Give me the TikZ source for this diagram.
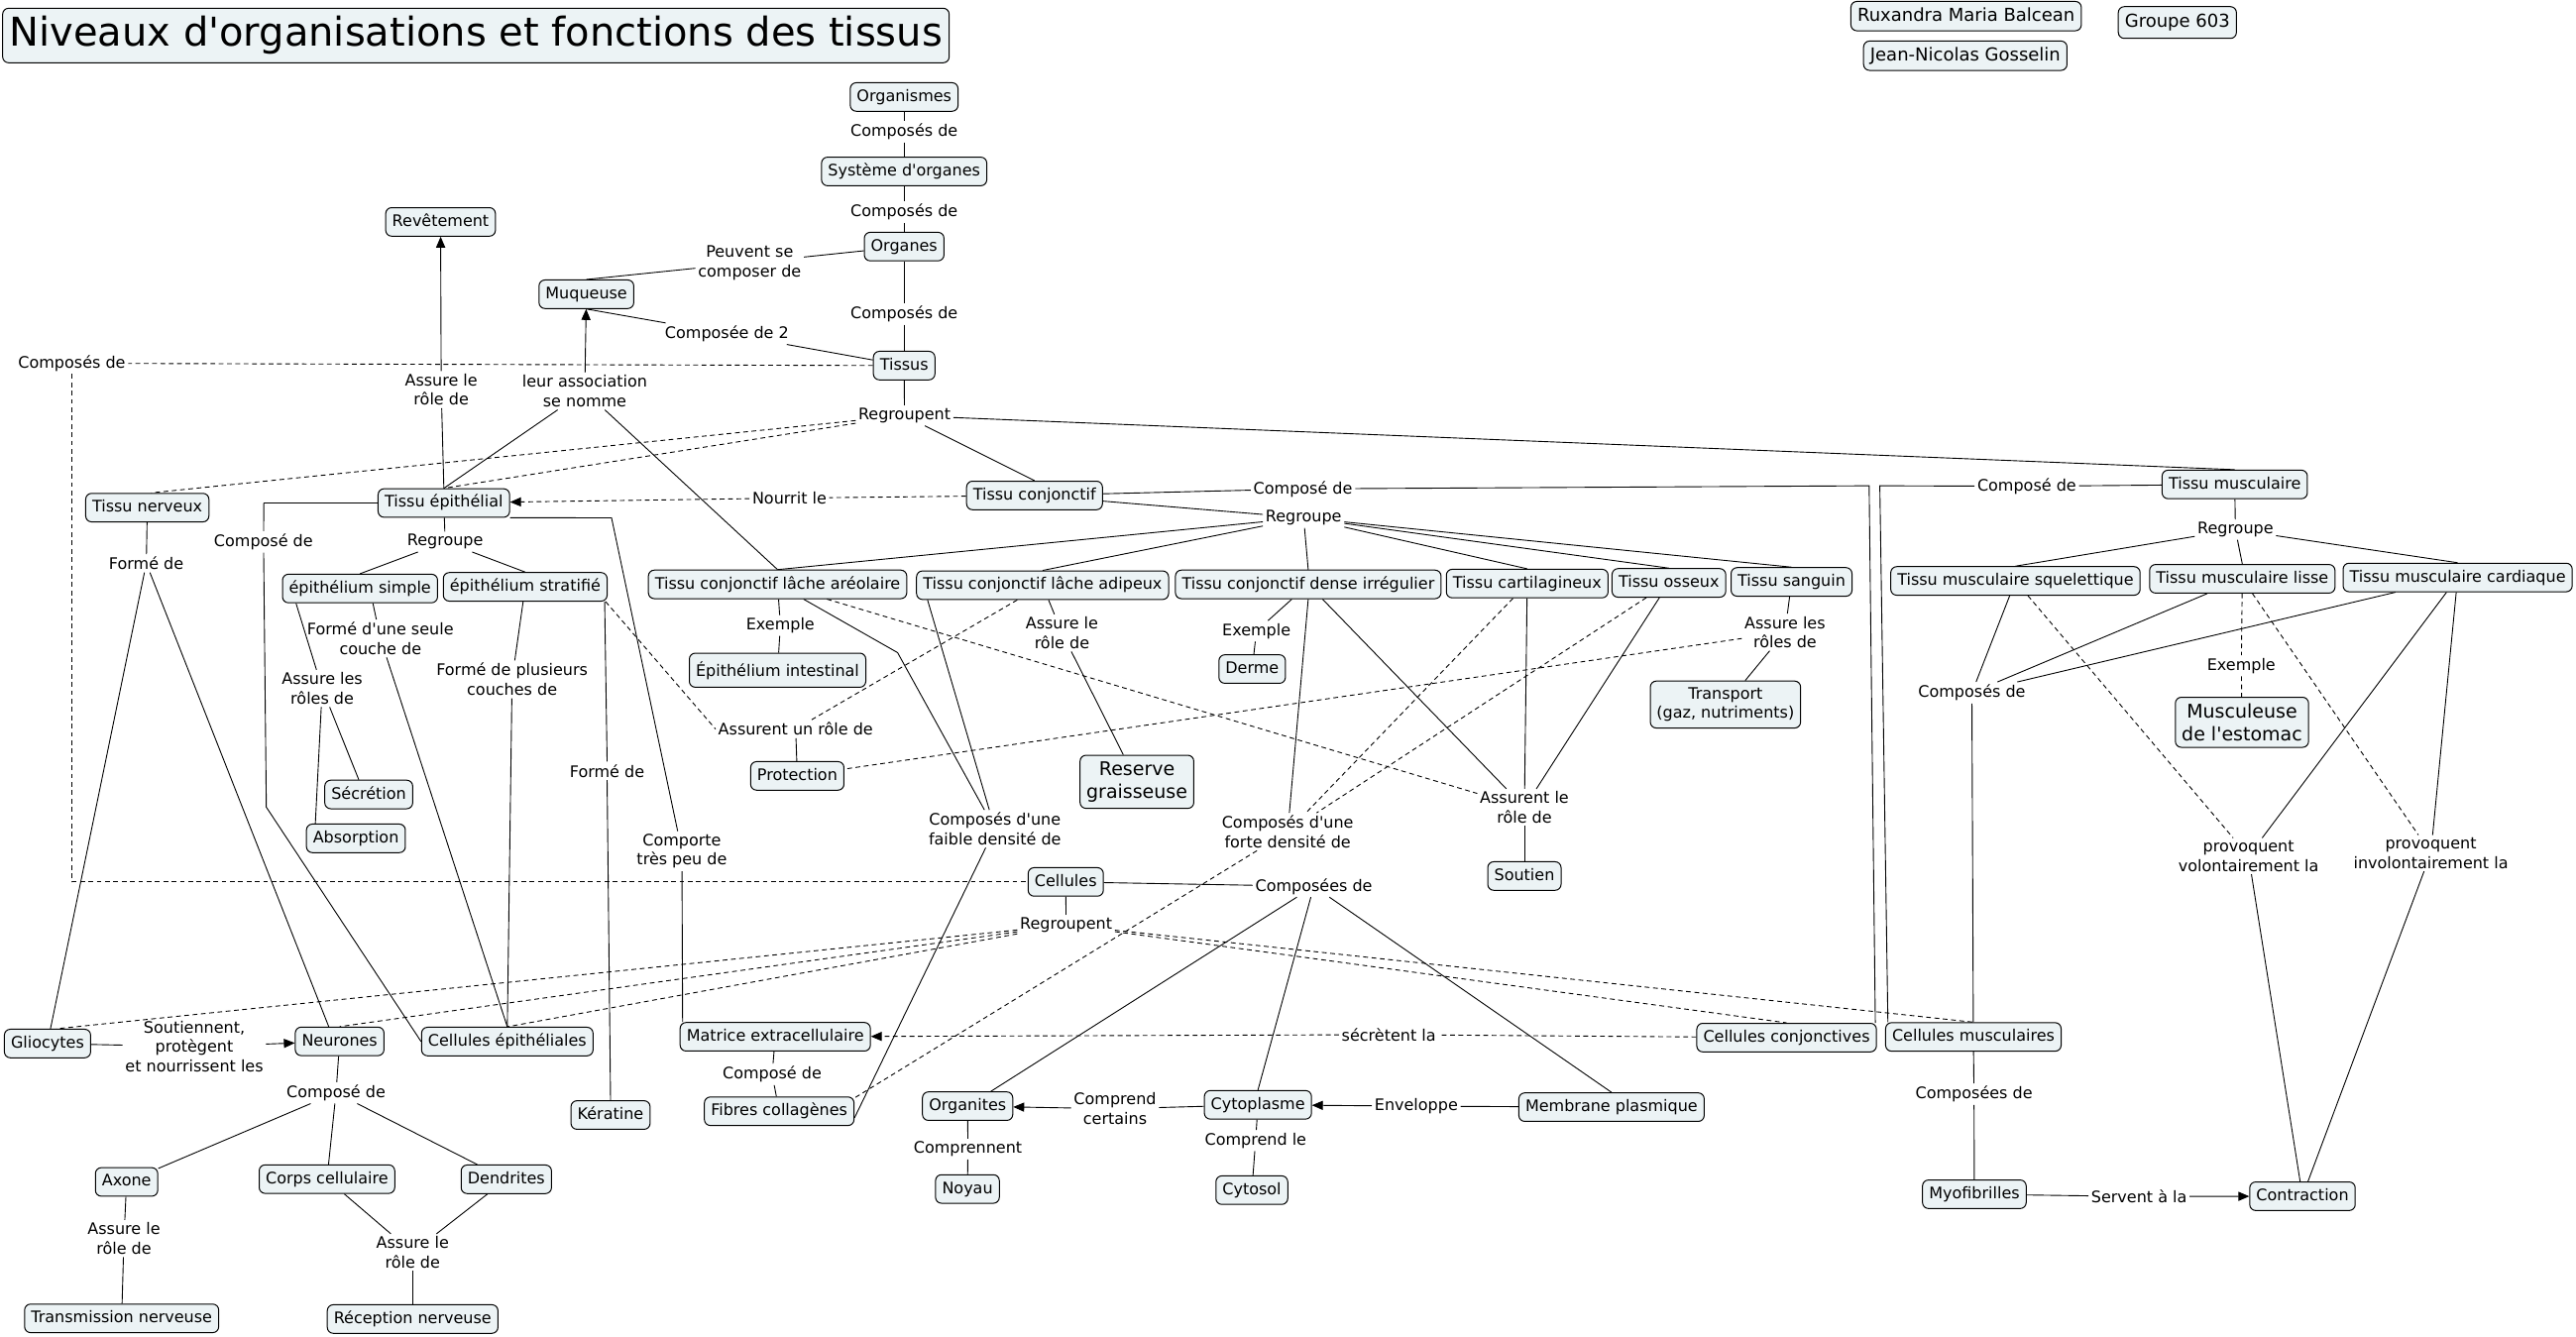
\documentclass[tikz,border=0pt]{standalone}
\usepackage{fontspec}
\setmainfont{DejaVu Sans}[Ligatures=TeXOff]
\usetikzlibrary{arrows.meta,backgrounds}
\definecolor{cbg}{RGB}{236,243,245}
\newcommand{\cmf}{\fontsize{8}{9.8}\selectfont}
\newcommand{\cmfb}{\fontsize{9.5}{11.5}\selectfont}
\newcommand{\cmfn}{\fontsize{9}{11}\selectfont}
\begin{document}
\begin{tikzpicture}[x=0.8293pt,y=-0.8293pt,
  concept/.style={draw=black,line width=0.5pt,rounded corners=3pt,fill=cbg,font=\cmf,inner xsep=3.3pt,inner ysep=3.2pt,text height=6.2pt,text depth=1.8pt},
  conceptm/.style={draw=black,line width=0.5pt,rounded corners=3pt,fill=cbg,font=\cmf,inner sep=3.2pt,align=center},
  lbl/.style={font=\cmf,inner sep=1.2pt,align=center},
  conn/.style={draw=black,line width=0.45pt},
  dconn/.style={conn,dash pattern=on 2.4pt off 1.8pt},
  arr/.style={-{Triangle[length=5.5pt,width=4.6pt]}}
]
\useasboundingbox (0,0) rectangle (1567,813.3);

% ---------- concepts ----------
\node[concept,font=\fontsize{20}{24}\selectfont,text height=15pt,text depth=4.5pt,inner xsep=3.4pt,inner ysep=4pt] (title) at (289.5,21.6) {Niveaux d'organisations et fonctions des tissus};
\node[concept,font=\cmfn,text height=6.8pt,text depth=2pt,inner ysep=3pt] (rux) at (1196,9.8) {Ruxandra Maria Balcean};
\node[concept,font=\cmfn,text height=6.8pt,text depth=2pt,inner ysep=3pt] (jean) at (1195.5,33.9) {Jean-Nicolas Gosselin};
\node[concept,font=\cmfn,text height=6.8pt,text depth=2pt,inner ysep=3.6pt] (grp) at (1324.5,13.7) {Groupe 603};

\node[concept] (organismes) at (550,59) {Organismes};
\node[concept] (systeme) at (550,104.3) {Système d'organes};
\node[concept] (organes) at (550,150) {Organes};
\node[concept] (tissus) at (550,222.4) {Tissus};
\node[concept] (muqueuse) at (356.7,179) {Muqueuse};
\node[concept] (revetement) at (268,135) {Revêtement};

\node[concept] (nerveux) at (89.6,308.8) {Tissu nerveux};
\node[concept] (epith) at (270,306) {Tissu épithélial};
\node[concept] (conj) at (629.3,301.4) {Tissu conjonctif};
\node[concept] (musc) at (1359.4,294.7) {Tissu musculaire};

\node[concept] (areo) at (473,355.5) {Tissu conjonctif lâche aréolaire};
\node[concept] (adip) at (634.2,356) {Tissu conjonctif lâche adipeux};
\node[concept] (dense) at (795.8,355.5) {Tissu conjonctif dense irrégulier};
\node[concept] (cart) at (929,355) {Tissu cartilagineux};
\node[concept] (oss) at (1015.2,354.6) {Tissu osseux};
\node[concept] (sang) at (1089.8,354) {Tissu sanguin};
\node[concept] (squel) at (1226,353.4) {Tissu musculaire squelettique};
\node[concept] (lisse) at (1364,352.1) {Tissu musculaire lisse};
\node[concept] (card) at (1495,351.3) {Tissu musculaire cardiaque};

\node[concept] (esimple) at (219,358) {épithélium simple};
\node[concept] (estrat) at (319.5,357) {épithélium stratifié};
\node[concept] (secretion) at (224.3,483.3) {Sécrétion};
\node[concept] (absorption) at (216.5,510) {Absorption};
\node[concept,text height=7.6pt,inner ysep=3.9pt] (intestinal) at (473,407.7) {Épithélium intestinal};
\node[concept] (protection) at (485,472) {Protection};
\node[conceptm,font=\cmfb] (reserve) at (691.6,475.6) {Reserve\\graisseuse};
\node[concept] (derme) at (761.7,407) {Derme};
\node[conceptm] (transport) at (1049.6,428.6) {Transport\\(gaz, nutriments)};
\node[concept] (soutien) at (927.3,532.9) {Soutien};
\node[conceptm,font=\cmfb] (musculeuse) at (1363.8,439.4) {Musculeuse\\de l'estomac};

\node[concept] (cellules) at (648.3,536.5) {Cellules};
\node[concept] (glio) at (28.9,634.8) {Gliocytes};
\node[concept] (neurones) at (206.6,633.5) {Neurones};
\node[concept] (cepith) at (308.6,633.6) {Cellules épithéliales};
\node[concept] (keratine) at (371.4,678.3) {Kératine};
\node[concept] (matrice) at (471.6,630.7) {Matrice extracellulaire};
\node[concept] (fibres) at (474,676) {Fibres collagènes};
\node[concept] (cconj) at (1086.8,631.2) {Cellules conjonctives};
\node[concept] (cmusc) at (1200.4,630.8) {Cellules musculaires};
\node[concept] (myo) at (1201,726.5) {Myofibrilles};
\node[concept] (contraction) at (1400.6,727.7) {Contraction};
\node[concept] (axone) at (77,719) {Axone};
\node[concept] (corps) at (198.9,717.3) {Corps cellulaire};
\node[concept] (dendrites) at (308,717.4) {Dendrites};
\node[concept] (transm) at (74,802) {Transmission nerveuse};
\node[concept] (reception) at (251,802.4) {Réception nerveuse};
\node[concept] (organites) at (588.6,672.9) {Organites};
\node[concept] (cyto) at (765.2,672.1) {Cytoplasme};
\node[concept] (membrane) at (980.3,673.5) {Membrane plasmique};
\node[concept] (noyau) at (588.5,723.3) {Noyau};
\node[concept] (cytosol) at (761.5,724) {Cytosol};

% ---------- linking phrases ----------
\node[lbl] (l1) at (550,80) {Composés de};
\node[lbl] (l2) at (550,129) {Composés de};
\node[lbl] (l3) at (550,191) {Composés de};
\node[lbl] (lpeuvent) at (456,159.8) {Peuvent se\\composer de};
\node[lbl] (lcomposee2) at (442.2,203) {Composée de 2};
\node[lbl] (lassure1) at (268.4,237) {Assure le\\rôle de};
\node[lbl] (lleur) at (355.7,238) {leur association\\se nomme};
\node[lbl] (lcomposes0) at (43.7,221) {Composés de};
\node[lbl] (lregroupent) at (550.2,252.8) {Regroupent};
\node[lbl] (lnourrit) at (480.2,303) {Nourrit le};
\node[lbl] (lcompconj) at (792.6,297.4) {Composé de};
\node[lbl] (lregconj) at (793,315) {Regroupe};
\node[lbl] (lcompmusc) at (1232.9,295.8) {Composé de};
\node[lbl] (lregmusc) at (1359.8,322.2) {Regroupe};
\node[lbl] (lcompepith) at (160.3,329.6) {Composé de};
\node[lbl] (lregepith) at (270.8,329.6) {Regroupe};
\node[lbl] (lformenerv) at (89,342.7) {Formé de};
\node[lbl] (lseule) at (231.4,388.4) {Formé d'une seule\\couche de};
\node[lbl] (lroles) at (196,418.8) {Assure les\\rôles de};
\node[lbl] (lplusieurs) at (311.5,413.3) {Formé de plusieurs\\couches de};
\node[lbl] (lformeker) at (369.3,468.9) {Formé de};
\node[lbl] (lcomporte) at (414.8,517.8) {Comporte\\très peu de};
\node[lbl] (lex1) at (474.7,380.5) {Exemple};
\node[lbl] (lprot) at (484,443.5) {Assurent un rôle de};
\node[lbl] (lassadip) at (646,385) {Assure le\\rôle de};
\node[lbl] (lex2) at (764.3,383.9) {Exemple};
\node[lbl] (lfaible) at (605.2,504.2) {Composés d'une\\faible densité de};
\node[lbl] (lforte) at (783.3,506) {Composés d'une\\forte densité de};
\node[lbl] (lsoutien) at (927.3,491.2) {Assurent le\\rôle de};
\node[lbl] (lsang) at (1085.8,384.6) {Assure les\\rôles de};
\node[lbl] (lcompmu) at (1199.5,421.4) {Composés de};
\node[lbl] (lex3) at (1363.4,405) {Exemple};
\node[lbl] (lvol) at (1367.8,520.8) {provoquent\\volontairement la};
\node[lbl] (linvol) at (1478.7,519) {provoquent\\involontairement la};
\node[lbl] (lcompcell) at (799.2,539.2) {Composées de};
\node[lbl] (lregcell) at (648.5,562.7) {Regroupent};
\node[lbl] (lsout) at (118.2,636.7) {Soutiennent,\\protègent\\et nourrissent les};
\node[lbl] (lcompneur) at (204.4,664.8) {Composé de};
\node[lbl] (lassax) at (75.4,753.4) {Assure le\\rôle de};
\node[lbl] (lassrec) at (251,761.9) {Assure le\\rôle de};
\node[lbl] (lcompmat) at (469.7,653.6) {Composé de};
\node[lbl] (lsecr) at (844.8,629.4) {sécrètent la};
\node[lbl] (lcomprend) at (678.3,674.5) {Comprend\\certains};
\node[lbl] (lenv) at (861.5,672.9) {Enveloppe};
\node[lbl] (lcomprennent) at (588.8,699) {Comprennent};
\node[lbl] (lcomprendle) at (763.8,693.8) {Comprend le};
\node[lbl] (lcompcm) at (1200.8,665.6) {Composées de};
\node[lbl] (lservent) at (1301.2,727.9) {Servent à la};

% bend points
\coordinate (bc1) at (1137,295.5);
\coordinate (bm1) at (1143.5,295.5);
\coordinate (be1) at (160.5,306);
\coordinate (be2) at (162,491);
\coordinate (bf1) at (546,397);
\coordinate (bk1) at (372,315);

% ---------- connectors ----------
\begin{scope}[on background layer]
\draw[conn] (organismes) -- (l1) -- (systeme) -- (l2) -- (organes) -- (l3) -- (tissus);
\draw[conn] (organes) -- (lpeuvent) -- (muqueuse.north);
\draw[conn] (tissus) -- (lcomposee2) -- (muqueuse.south);
\draw[conn,arr] (lleur) -- (muqueuse);
\draw[conn] (epith.north) -- (lleur);
\draw[conn] (areo.north) -- (lleur);
\draw[conn] (epith.north) -- (lassure1);
\draw[conn,arr] (lassure1) -- (revetement);
\draw[dconn] (tissus) -- (lcomposes0);
\draw[dconn] (lcomposes0.south) |- (cellules.west);
\draw[conn] (tissus) -- (lregroupent);
\draw[dconn] (lregroupent) -- ([xshift=2pt]nerveux.north);
\draw[dconn] (lregroupent) -- (epith.north);
\draw[conn] (lregroupent) -- (conj.north);
\draw[conn] (lregroupent) -- (musc.north);

\draw[dconn] (conj) -- (lnourrit);
\draw[dconn,arr] (lnourrit) -- (epith);
\draw[conn] (conj) -- (lcompconj) -- (bc1) -- ([xshift=-0.8pt]cconj.north east);
\draw[conn] (musc) -- (lcompmusc) -- (bm1) -- ([xshift=1.4pt]cmusc.north west);

\draw[conn] (conj) -- (lregconj);
\foreach \t in {areo,adip,dense,cart,oss,sang} \draw[conn] (lregconj) -- (\t.north);
\draw[conn] (musc) -- (lregmusc);
\foreach \t in {squel,lisse,card} \draw[conn] (lregmusc) -- (\t.north);
\draw[conn] (epith) -- (lregepith);
\draw[conn] (lregepith) -- (esimple.north);
\draw[conn] (lregepith) -- (estrat.north);

\draw[conn] (epith.west) -- (be1) -- (lcompepith) -- (be2) -- (cepith.west);
\draw[conn] ([xshift=6.5pt]esimple.south) -- (lseule) -- (cepith.north);
\draw[conn] (esimple.193) -- (lroles);
\draw[conn] (lroles) -- (secretion.124);
\draw[conn] (lroles) -- (absorption.160);
\draw[conn] (estrat) -- (lplusieurs) -- (cepith.north);
\draw[conn] ([xshift=-1.5pt]estrat.south east) -- (lformeker.north);
\draw[conn] (lformeker.south) -- (keratine.north);
\draw[dconn] ([xshift=-1pt]estrat.south east) -- (lprot.west);
\draw[dconn] (adip) -- (lprot);
\draw[conn] (lprot) -- (protection);
\draw[dconn] (lsang) -- (protection);
\draw[conn] (sang) -- (lsang) -- (transport);
\draw[conn] (areo) -- (lex1) -- (intestinal);
\draw[conn] (adip) -- (lassadip) -- (reserve);
\draw[conn] (dense) -- (lex2) -- (derme);

\draw[dconn] (areo) -- (lsoutien);
\foreach \t in {dense,cart,oss} \draw[conn] (\t) -- (lsoutien);
\draw[conn] (lsoutien) -- (soutien);
\draw[conn] (areo) -- (bf1) -- (lfaible);
\draw[conn] ([xshift=5.8pt]adip.south west) -- (lfaible);
\draw[conn] (lfaible) -- (fibres.-5);
\draw[conn] (dense.south) -- (lforte);
\draw[dconn] (cart) -- (lforte);
\draw[dconn] (oss) -- (lforte);
\draw[dconn] (lforte) -- (fibres.10);

\draw[conn] (epith.south east) -- (bk1) -- (lcomporte) -- ([xshift=1.5pt]matrice.north west);

\draw[conn] (nerveux) -- (lformenerv);
\draw[conn] (lformenerv) -- ([xshift=1.5pt]glio.north);
\draw[conn] (lformenerv) -- ([xshift=-5.5pt]neurones.north);
\draw[conn] (glio) -- (lsout);
\draw[conn,arr] (lsout) -- (neurones);
\draw[conn] (neurones) -- (lcompneur);
\foreach \t in {axone,corps,dendrites} \draw[conn] (lcompneur) -- (\t);
\draw[conn] (axone) -- (lassax) -- (transm);
\draw[conn] (corps) -- (lassrec);
\draw[conn] (dendrites) -- (lassrec);
\draw[conn] (lassrec) -- (reception);

\draw[conn] (cellules) -- (lregcell);
\draw[dconn] (lregcell) -- ([xshift=4.5pt]glio.north);
\draw[dconn] (lregcell) -- (neurones.north);
\draw[dconn] (lregcell) -- (cepith.north);
\draw[dconn] (lregcell) -- (cconj.north);
\draw[dconn] (lregcell) -- (cmusc.north);
\draw[conn] (cellules) -- (lcompcell);
\draw[conn] (lcompcell) -- (organites);
\draw[conn] (lcompcell) -- (cyto.north);
\draw[conn] (lcompcell) -- (membrane.north);

\draw[dconn] (cconj) -- (lsecr);
\draw[dconn,arr] (lsecr) -- (matrice);
\draw[conn] (matrice) -- (lcompmat) -- (fibres);
\draw[conn] (cyto) -- (lcomprend);
\draw[conn,arr] (lcomprend) -- (organites);
\draw[conn] (membrane) -- (lenv);
\draw[conn,arr] (lenv) -- (cyto);
\draw[conn] (organites) -- (lcomprennent) -- (noyau);
\draw[conn] (cyto) -- (lcomprendle) -- (cytosol);
\draw[conn] (cmusc) -- (lcompcm) -- (myo);
\draw[conn] (myo) -- (lservent);
\draw[conn,arr] (lservent) -- (contraction);

\foreach \t in {squel,lisse,card} \draw[conn] (\t) -- (lcompmu);
\draw[conn] (lcompmu) -- (cmusc);
\draw[dconn] (squel) -- (lvol);
\draw[conn] (card) -- (lvol);
\draw[conn] (card) -- (linvol);
\draw[dconn] (lisse) -- (linvol);
\draw[dconn] (lisse) -- (lex3) -- (musculeuse);
\draw[conn] (lvol) -- (contraction);
\draw[conn] (linvol) -- (contraction);
\end{scope}
\end{tikzpicture}
\end{document}
